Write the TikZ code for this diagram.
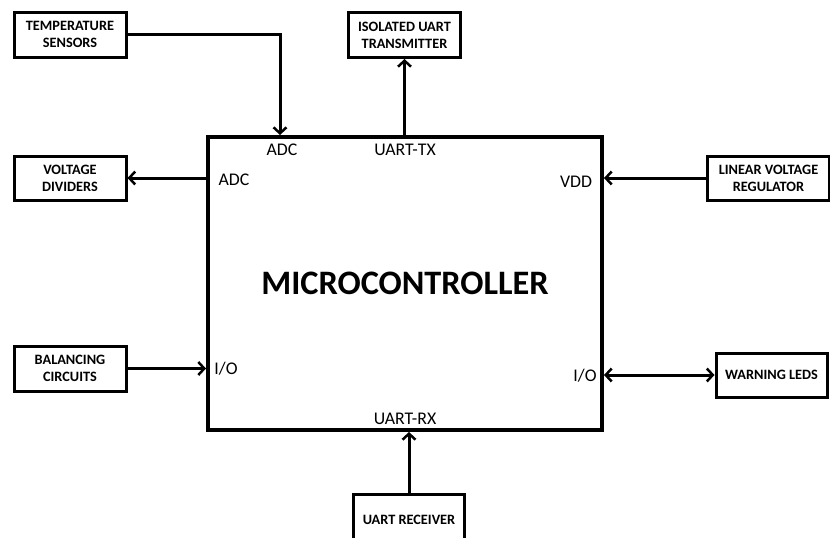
\documentclass[tikz,border=0pt]{standalone}
\usepackage{fontspec}
\setmainfont{Carlito}
\usetikzlibrary{arrows.meta}
\begin{document}
\begin{tikzpicture}[x=1pt,y=-1pt,
  blk/.style={draw=black,line width=3pt,rectangle,inner sep=0pt,align=center,
    font=\fontsize{14.3}{17}\selectfont\bfseries},
  mcu/.style={draw=black,line width=4pt,rectangle,inner sep=0pt,
    font=\fontsize{34.3}{38}\selectfont\bfseries},
  pin/.style={inner sep=0pt,font=\fontsize{17.8}{20}\selectfont},
  conn/.style={line width=3pt,arrows={-Straight Barb[length=6pt,width=13pt,line width=2.5pt]}},
  bconn/.style={line width=3pt,arrows={Straight Barb[length=6pt,width=13pt,line width=2.5pt]-Straight Barb[length=6pt,width=13pt,line width=2.5pt]}}]
\useasboundingbox[fill=white] (0,0) rectangle (830,538);
\node[mcu,minimum width=394pt,minimum height=293pt] (main) at (405,283.5) {MICROCONTROLLER};
\node[blk,minimum width=112pt,minimum height=45pt] (temp) at (70,34.5) {TEMPERATURE\\SENSORS};
\node[blk,minimum width=112pt,minimum height=44pt] (vd) at (70,178) {VOLTAGE\\DIVIDERS};
\node[blk,minimum width=112pt,minimum height=45pt] (iso) at (404.5,35) {ISOLATED UART\\TRANSMITTER};
\node[blk,minimum width=122pt,minimum height=44pt] (lvr) at (768.5,178) {LINEAR VOLTAGE\\REGULATOR};
\node[blk,minimum width=111pt,minimum height=44pt] (led) at (771.5,375) {WARNING LEDS};
\node[blk,minimum width=112pt,minimum height=45pt] (bal) at (70,368.5) {BALANCING\\CIRCUITS};
\node[blk,minimum width=111pt,minimum height=50pt] (rx) at (409,519.5) {UART RECEIVER};
\coordinate (adcin) at (280,0);
\draw[conn] (temp.east) -| (adcin |- main.north);
\draw[conn] (main.west |- vd.east) -- (vd.east);
\draw[conn] (main.north -| iso.south) -- (iso.south);
\draw[conn] (lvr.west) -- (main.east |- lvr.west);
\draw[bconn] (main.east |- led.west) -- (led.west);
\draw[conn] (bal.east) -- (main.west |- bal.east);
\draw[conn] (rx.north) -- (main.south -| rx.north);
\node[pin] (l1) at (282,150) {ADC};
\node[pin] (l2) at (234,180) {ADC};
\node[pin] (l3) at (405,150) {UART-TX};
\node[pin] (l4) at (576,182) {VDD};
\node[pin] (l5) at (226,369) {I/O};
\node[pin] (l6) at (585,376) {I/O};
\node[pin] (l7) at (405,419) {UART-RX};
\end{tikzpicture}
\end{document}
